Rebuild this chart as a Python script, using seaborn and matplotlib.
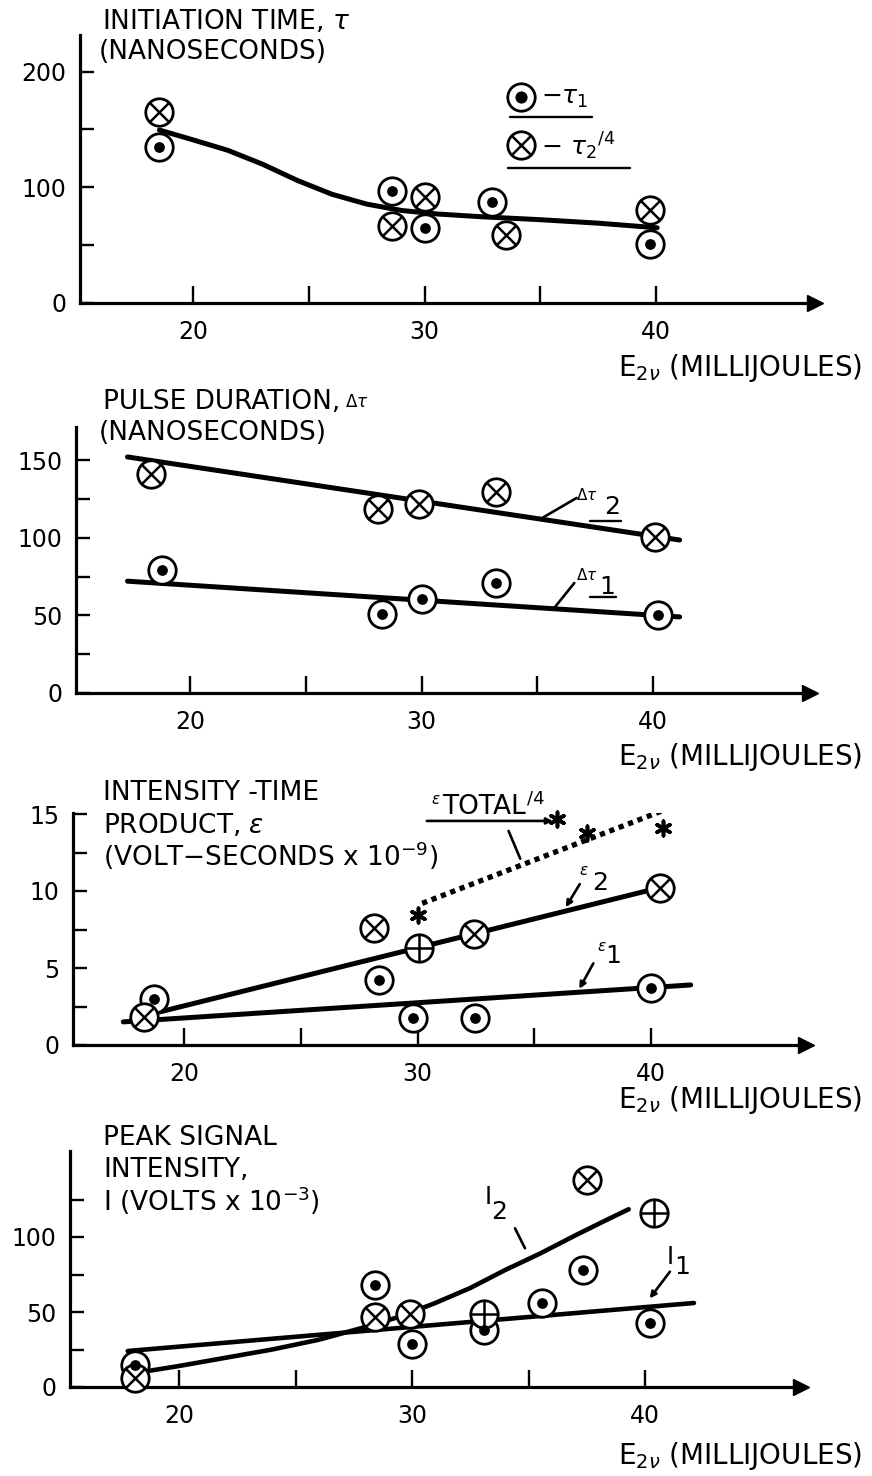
import matplotlib
matplotlib.use("Agg")
import matplotlib.pyplot as plt
import seaborn as sns

sns.set_theme(style="white")
plt.rcParams["font.family"] = ["DejaVu Sans"]
plt.rcParams["mathtext.fontset"] = "dejavusans"

W, H = 872, 1476
INK = "black"

# ---------------- data ----------------
X_TICKS = [20, 25, 30, 35, 40]
X_TICK_LABELS = ["20", "", "30", "", "40"]

# initiation time
tau1_x = [18.55, 28.6, 30.0, 32.9, 39.75]
tau1_y = [135, 97, 64.5, 87.6, 50.7]
tau2q_x = [18.55, 28.6, 30.0, 33.5, 39.75]
tau2q_y = [165, 66.8, 91.9, 58.8, 80.4]
tau_fit_x = [18.55, 20, 21.5, 23, 24.5, 26, 27.5, 29, 30.5, 32.5, 35, 37.5, 40.05]
tau_fit_y = [149.5, 141, 132, 120, 106, 94, 85.5, 80, 77, 74.5, 72, 69, 65]

# pulse duration
dt2_x = [18.3, 28.1, 29.9, 33.2, 40.1]
dt2_y = [141, 118.5, 122, 129.4, 100.5]
dt2_fit_x = [17.3, 41.15]
dt2_fit_y = [152, 98.5]
dt1_x = [18.8, 28.3, 30.0, 33.2, 40.2]
dt1_y = [79, 51, 60.5, 71, 50]
dt1_fit_x = [17.3, 41.15]
dt1_fit_y = [72, 49]

# intensity-time product
eps1_x = [18.7, 28.35, 29.8, 32.45, 40.0]
eps1_y = [3.0, 4.2, 1.75, 1.75, 3.7]
eps2_x = [18.3, 28.15, 30.06, 32.4, 40.4]
eps2_y = [1.84, 7.6, 6.3, 7.2, 10.2]
eps2_mark = ["x", "x", "+", "x", "x"]
epst_x = [30.03, 35.96, 37.25, 40.5]
epst_y = [8.44, 14.65, 13.75, 14.07]
eps1_fit_x = [17.4, 41.7]
eps1_fit_y = [1.5, 3.9]
eps2_fit_x = [18.3, 40.2]
eps2_fit_y = [1.9, 10.15]
epst_fit_x = [30.2, 41.5]
epst_fit_y = [9.2, 15.8]

# peak signal intensity
i1_x = [18.1, 28.4, 30.0, 33.1, 35.6, 37.35, 40.2]
i1_y = [14.7, 68, 29, 38, 56, 78, 42.5]
i2_x = [18.1, 28.4, 29.9, 33.1, 37.5, 40.4]
i2_y = [6, 47, 49, 49, 138, 116]
i2_mark = ["x", "x", "x", "+", "x", "+"]
i1_fit_x = [17.8, 42.1]
i1_fit_y = [24, 56]
i2_fit_x = [18.4, 20, 22, 24, 26, 28, 29.5, 31, 32.5, 34, 35.5, 37, 38.3, 39.3]
i2_fit_y = [10, 14, 19.5, 25, 31.5, 40, 47, 56, 66, 78, 89, 101, 111, 118.5]

# ---------------- drawing helpers ----------------
fig = plt.figure(figsize=(W / 100, H / 100), dpi=100)
fig.patch.set_facecolor("white")

TICK_FS = 17
TITLE_FS = 19
RING_S = 390
DOT_S = 60


def frame(left, right, base, top, x20, ppx, ppy, yticks, ylabels):
    ax = fig.add_axes([left / W, 1 - base / H, (right - left) / W, (base - top) / H])
    ax.set_xlim(20 - (x20 - left) / ppx, 20 + (right - x20) / ppx)
    ax.set_ylim(0, (base - top) / ppy)
    ax.patch.set_alpha(0)
    for s in ("top", "right"):
        ax.spines[s].set_visible(False)
    for s in ("left", "bottom"):
        ax.spines[s].set_linewidth(2.3)
        ax.spines[s].set_color(INK)
    ax.set_xticks(X_TICKS)
    ax.set_xticklabels(X_TICK_LABELS)
    ax.set_yticks(yticks)
    ax.set_yticklabels(ylabels)
    ax.tick_params(axis="x", direction="in", length=12, width=1.7, pad=12,
                   labelsize=TICK_FS, colors=INK, bottom=True)
    ax.tick_params(axis="y", direction="in", length=10, width=1.7, pad=10,
                   labelsize=TICK_FS, colors=INK, left=True)
    ax.plot(1, 0, marker=">", ms=12, color=INK, transform=ax.transAxes, clip_on=False)
    return ax


def ftext(x, y, s, **kw):
    kw.setdefault("fontsize", TITLE_FS)
    kw.setdefault("va", "center")
    return fig.text(x / W, 1 - y / H, s, color=INK, **kw)


def after(ax, anchor, s, dx, dy, size):
    # small piece of text attached to the right end of another text
    return ax.annotate(s, xy=(1, 0.5), xycoords=anchor, xytext=(dx, dy),
                       textcoords="offset points", fontsize=size,
                       va="center", ha="left", color=INK, annotation_clip=False)


def before(ax, anchor, s, dx, dy, size):
    return ax.annotate(s, xy=(0, 0.5), xycoords=anchor, xytext=(dx, dy),
                       textcoords="offset points", fontsize=size,
                       va="center", ha="right", color=INK, annotation_clip=False)


def ring(ax, x, y):
    sns.scatterplot(x=x, y=y, marker="o", s=RING_S, color="white", edgecolor=INK,
                    linewidth=2.0, ax=ax, zorder=5, clip_on=False, legend=False)


def dots(ax, x, y):
    ring(ax, x, y)
    sns.scatterplot(x=x, y=y, marker="o", s=DOT_S, color=INK, linewidth=0,
                    ax=ax, zorder=6, clip_on=False, legend=False)


def crosses(ax, x, y, kinds):
    ring(ax, x, y)
    for kind, size in (("x", 185), ("+", 340)):
        xs = [a for a, k in zip(x, kinds) if k == kind]
        ys = [b for b, k in zip(y, kinds) if k == kind]
        if xs:
            sns.scatterplot(x=xs, y=ys, marker=kind, s=size, color=INK, linewidth=1.8,
                            ax=ax, zorder=6, clip_on=False, legend=False)


def fit(ax, x, y, lw=3.6, **kw):
    kw.setdefault("solid_joinstyle", "round")
    sns.lineplot(x=x, y=y, color=INK, linewidth=lw, ax=ax, estimator=None,
                 sort=False, zorder=3, **kw)


def leader(ax, p0, p1, head=False):
    style = "-|>" if head else "-"
    ax.annotate("", xy=p0, xytext=p1, annotation_clip=False,
                arrowprops=dict(arrowstyle=style, lw=1.9, color=INK,
                                mutation_scale=9, shrinkA=0, shrinkB=0))


def xlabel(y):
    ftext(862, y, r"E$_{2\nu}$ (MILLIJOULES)", ha="right", fontsize=20)


# ---------------- panel 1: initiation time ----------------
ax1 = frame(80, 815, 303, 35, 193, 23.15, 1.157,
            [0, 50, 100, 150, 200], ["0", "", "100", "", "200"])
fit(ax1, tau_fit_x, tau_fit_y)
dots(ax1, tau1_x, tau1_y)
crosses(ax1, tau2q_x, tau2q_y, ["x"] * len(tau2q_x))
ftext(102, 21, r"INITIATION TIME, $\tau$")
ftext(99, 52, "(NANOSECONDS)")
xlabel(368)

# key
tr = ax1.transAxes
ax1.scatter([0.600], [0.769], s=RING_S, marker="o", facecolor="white", edgecolor=INK,
            linewidth=2.0, transform=tr, zorder=5, clip_on=False)
ax1.scatter([0.600], [0.769], s=DOT_S, marker="o", color=INK, transform=tr, zorder=6, clip_on=False)
ax1.scatter([0.600], [0.590], s=RING_S, marker="o", facecolor="white", edgecolor=INK,
            linewidth=2.0, transform=tr, zorder=5, clip_on=False)
ax1.scatter([0.600], [0.590], s=185, marker="x", color=INK, linewidth=1.8,
            transform=tr, zorder=6, clip_on=False)
ax1.text(0.627, 0.765, r"$-\tau_1$", transform=tr, fontsize=18, va="center", color=INK)
ax1.text(0.627, 0.585, r"$-\ \tau_2{}^{/4}$", transform=tr, fontsize=18, va="center", color=INK)
ax1.plot([0.585, 0.697], [0.694, 0.694], color=INK, lw=1.7, transform=tr, clip_on=False)
ax1.plot([0.582, 0.748], [0.504, 0.504], color=INK, lw=1.7, transform=tr, clip_on=False)

# ---------------- panel 2: pulse duration ----------------
ax2 = frame(76, 810, 693, 427, 190, 23.15, 1.553,
            [0, 25, 50, 75, 100, 125, 150], ["0", "", "50", "", "100", "", "150"])
fit(ax2, dt2_fit_x, dt2_fit_y)
fit(ax2, dt1_fit_x, dt1_fit_y)
crosses(ax2, dt2_x, dt2_y, ["x"] * len(dt2_x))
dots(ax2, dt1_x, dt1_y)
t = ftext(103, 402, "PULSE DURATION,")
after(ax2, t, r"$\Delta\tau$", 3, 0, 12)
ftext(99, 433, "(NANOSECONDS)")
xlabel(757)

ax2.text(37.15, 127.5, r"$\Delta\tau$", fontsize=11, ha="center", va="center", color=INK)
ax2.text(38.22, 120, "2", fontsize=18, ha="center", va="center", color=INK)
ax2.plot([37.28, 38.6], [111.0, 111.0], color=INK, lw=1.7)
leader(ax2, (35.25, 113), (36.7, 125.6))
ax2.text(37.15, 76, r"$\Delta\tau$", fontsize=11, ha="center", va="center", color=INK)
ax2.text(38.02, 68.4, "1", fontsize=18, ha="center", va="center", color=INK)
ax2.plot([37.28, 38.4], [61.6, 61.6], color=INK, lw=1.7)
leader(ax2, (35.72, 54.5), (36.6, 70.8))

# ---------------- panel 3: intensity-time product ----------------
ax3 = frame(73, 806, 1045, 813, 184, 23.35, 15.4,
            [0, 2.5, 5, 7.5, 10, 12.5, 15], ["0", "", "5", "", "10", "", "15"])
fit(ax3, eps1_fit_x, eps1_fit_y)
fit(ax3, eps2_fit_x, eps2_fit_y)
fit(ax3, epst_fit_x, epst_fit_y, lw=3.8, linestyle=(0, (1, 0.9)), dash_capstyle="butt")
dots(ax3, eps1_x, eps1_y)
crosses(ax3, eps2_x, eps2_y, eps2_mark)
sns.scatterplot(x=epst_x, y=epst_y, marker=(6, 2, 0), s=110, color=INK, linewidth=2.6,
                ax=ax3, zorder=6, clip_on=False, legend=False)
ftext(103, 793, "INTENSITY -TIME")
ftext(103, 825, r"PRODUCT, $\epsilon$")
ftext(103, 856, r"(VOLT$-$SECONDS x 10$^{-9}$)")
xlabel(1100)

tt = ax3.text(32.85, 15.47, "TOTAL", fontsize=19, ha="center", va="center", color=INK)
before(ax3, tt, r"$\epsilon$", -1, 5, 11)
after(ax3, tt, "/4", 1, 6, 13)
leader(ax3, (35.8, 14.55), (30.4, 14.55), head=True)
leader(ax3, (34.4, 12.1), (33.9, 13.9))
ax3.text(37.14, 11.3, r"$\epsilon$", fontsize=11, ha="center", va="center", color=INK)
ax3.text(37.8, 10.55, "2", fontsize=18, ha="center", va="center", color=INK)
leader(ax3, (36.35, 8.95), (36.95, 10.45), head=True)
ax3.text(37.88, 6.38, r"$\epsilon$", fontsize=11, ha="center", va="center", color=INK)
ax3.text(38.4, 5.8, "1", fontsize=18, ha="center", va="center", color=INK)
leader(ax3, (36.93, 3.65), (37.53, 5.3), head=True)

# ---------------- panel 4: peak signal intensity ----------------
ax4 = frame(70, 801, 1387, 1151, 179, 23.3, 1.5,
            [0, 25, 50, 75, 100, 125], ["0", "", "50", "", "100", ""])
fit(ax4, i1_fit_x, i1_fit_y, lw=3.3)
fit(ax4, i2_fit_x, i2_fit_y, lw=3.3)
dots(ax4, i1_x, i1_y)
crosses(ax4, i2_x, i2_y, i2_mark)
ftext(103, 1138, "PEAK SIGNAL")
ftext(103, 1170, "INTENSITY,")
ftext(103, 1201, r"I (VOLTS x 10$^{-3}$)")
xlabel(1456)

ax4.text(33.27, 126.9, "I", fontsize=17, ha="center", va="center", color=INK)
ax4.text(33.75, 116.9, "2", fontsize=18, ha="center", va="center", color=INK)
leader(ax4, (34.85, 92.5), (34.42, 105.8))
ax4.text(41.07, 86.9, "I", fontsize=17, ha="center", va="center", color=INK)
ax4.text(41.6, 80.2, "1", fontsize=18, ha="center", va="center", color=INK)
leader(ax4, (40.2, 59), (41.07, 76.9), head=True)

fig.savefig("out.png", dpi=100)
